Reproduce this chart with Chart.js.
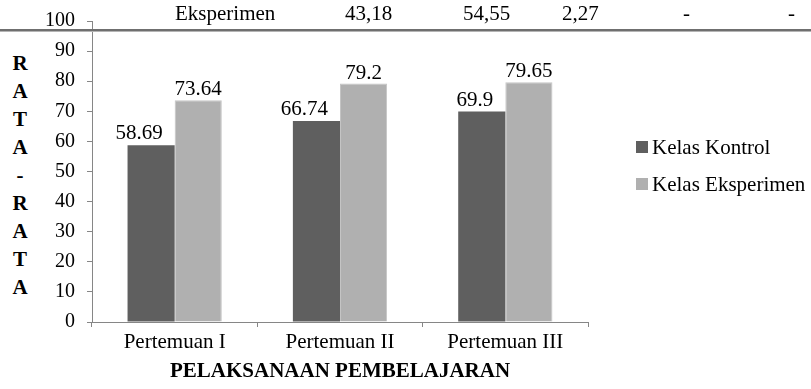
<!DOCTYPE html>
<html>
<head>
<meta charset="utf-8">
<title>Rata-rata Kelas Kontrol dan Kelas Eksperimen</title>
<script src="https://cdn.jsdelivr.net/npm/chart.js@4.4.1/dist/chart.umd.min.js"></script>
<style>
  html, body { margin: 0; padding: 0; background: #fff; }
  #wrap { position: relative; width: 811px; height: 389px; overflow: hidden;
          font-family: 'Liberation Serif', 'Times New Roman', serif; color: #000; }
  #chart { position: absolute; left: 0; top: 0; }
  .cell { position: absolute; top: 3px; font-size: 21px; line-height: 21px; white-space: nowrap; }
  #rule { position: absolute; left: 0; top: 29px; width: 811px; height: 2px;
          background: #6f6f6f; border-bottom: 1px solid #b4b4b4; z-index: 5; }
  #ytitle { position: absolute; left: 0; top: 49px; width: 40px; text-align: center;
            font-weight: bold; font-size: 21px; line-height: 28px; }
  .lg { position: absolute; left: 636px; font-size: 21px; line-height: 21px; white-space: nowrap; }
  .lg i { position: absolute; left: 0; top: 4px; width: 12px; height: 12px; }
  .lg span { position: absolute; left: 16px; top: 0; }
</style>
</head>
<body>
<div id="wrap">
  <div id="ytitle"></div>
  <canvas id="chart" width="811" height="389"></canvas>
  <div id="rule"></div>
</div>
<script>
// Table row shown above the chart
const tableRow = ['Eksperimen', '43,18', '54,55', '2,27', '-', '-'];
const tableCols = [175, 345, 463, 562, 683, 788];

// Chart data
const categories = ['Pertemuan I', 'Pertemuan II', 'Pertemuan III'];
const seriesNames = ['Kelas Kontrol', 'Kelas Eksperimen'];
const kelasKontrol = [58.69, 66.74, 69.9];
const kelasEksperimen = [73.64, 79.2, 79.65];
const seriesColors = ['#5f5f5f', '#b0b0b0'];
const yMin = 0, yMax = 100, yStep = 10;
const yTitle = 'RATA-RATA';
const xTitle = 'PELAKSANAAN PEMBELAJARAN';

const FONT = "'Liberation Serif', 'Times New Roman', serif";
const wrap = document.getElementById('wrap');

// table row text
tableRow.forEach((t, i) => {
  const d = document.createElement('div');
  d.className = 'cell';
  d.style.left = tableCols[i] + 'px';
  d.textContent = t;
  wrap.appendChild(d);
});

// stacked vertical axis title
document.getElementById('ytitle').innerHTML =
  yTitle.split('').map(c => '<div>' + c + '</div>').join('');

// legend
seriesNames.forEach((name, i) => {
  const d = document.createElement('div');
  d.className = 'lg';
  d.style.top = (137 + i * 37) + 'px';
  d.innerHTML = '<i style="background:' + seriesColors[i] + '"></i><span>' + name + '</span>';
  wrap.appendChild(d);
});

// value labels above the bars
const valueLabels = {
  id: 'valueLabels',
  afterDatasetsDraw(chart) {
    const ctx = chart.ctx;
    ctx.save();
    ctx.font = '21px ' + FONT;
    ctx.fillStyle = '#000';
    ctx.textBaseline = 'alphabetic';
    chart.data.datasets.forEach((ds, di) => {
      chart.getDatasetMeta(di).data.forEach((bar, i) => {
        const txt = String(ds.data[i]);
        if (di === 0) {
          ctx.textAlign = 'right';
          ctx.fillText(txt, bar.x + bar.width / 2 - 12, bar.y - 6);
        } else {
          ctx.textAlign = 'center';
          ctx.fillText(txt, bar.x, bar.y - 5);
        }
      });
    });
    ctx.restore();
  }
};

const axisGrey = '#868686';

new Chart(document.getElementById('chart'), {
  type: 'bar',
  data: {
    labels: categories,
    datasets: [
      { label: seriesNames[0], data: kelasKontrol, backgroundColor: seriesColors[0],
        borderWidth: 0 },
      { label: seriesNames[1], data: kelasEksperimen, backgroundColor: seriesColors[1],
        borderColor: '#c4c4c4', borderWidth: 1 }
    ]
  },
  options: {
    responsive: false,
    maintainAspectRatio: false,
    animation: false,
    layout: { padding: { left: 0, right: 223, top: 21, bottom: 0 } },
    datasets: { bar: { categoryPercentage: 0.57, barPercentage: 1 } },
    plugins: { legend: { display: false }, tooltip: { enabled: false } },
    scales: {
      x: {
        grid: { drawOnChartArea: false, drawTicks: true, tickLength: 5, color: axisGrey, offset: true },
        border: { display: true, color: axisGrey },
        ticks: { color: '#000', font: { family: FONT, size: 21 }, padding: 3 },
        title: { display: true, text: xTitle, color: '#000',
                 font: { family: FONT, size: 21, weight: 'bold' }, padding: { top: 0, bottom: 5 } },
        afterFit(scale) { scale.height = 67; }
      },
      y: {
        min: yMin, max: yMax,
        grid: { drawOnChartArea: false, drawTicks: true, tickLength: 5, color: axisGrey },
        border: { display: true, color: axisGrey },
        ticks: { stepSize: yStep, color: '#000', font: { family: FONT, size: 20 }, padding: 12 },
        afterFit(scale) {
          scale.width = 92;
          scale.paddingTop = 0;
          scale.paddingBottom = 0;
        }
      }
    }
  },
  plugins: [valueLabels]
});
</script>
</body>
</html>
